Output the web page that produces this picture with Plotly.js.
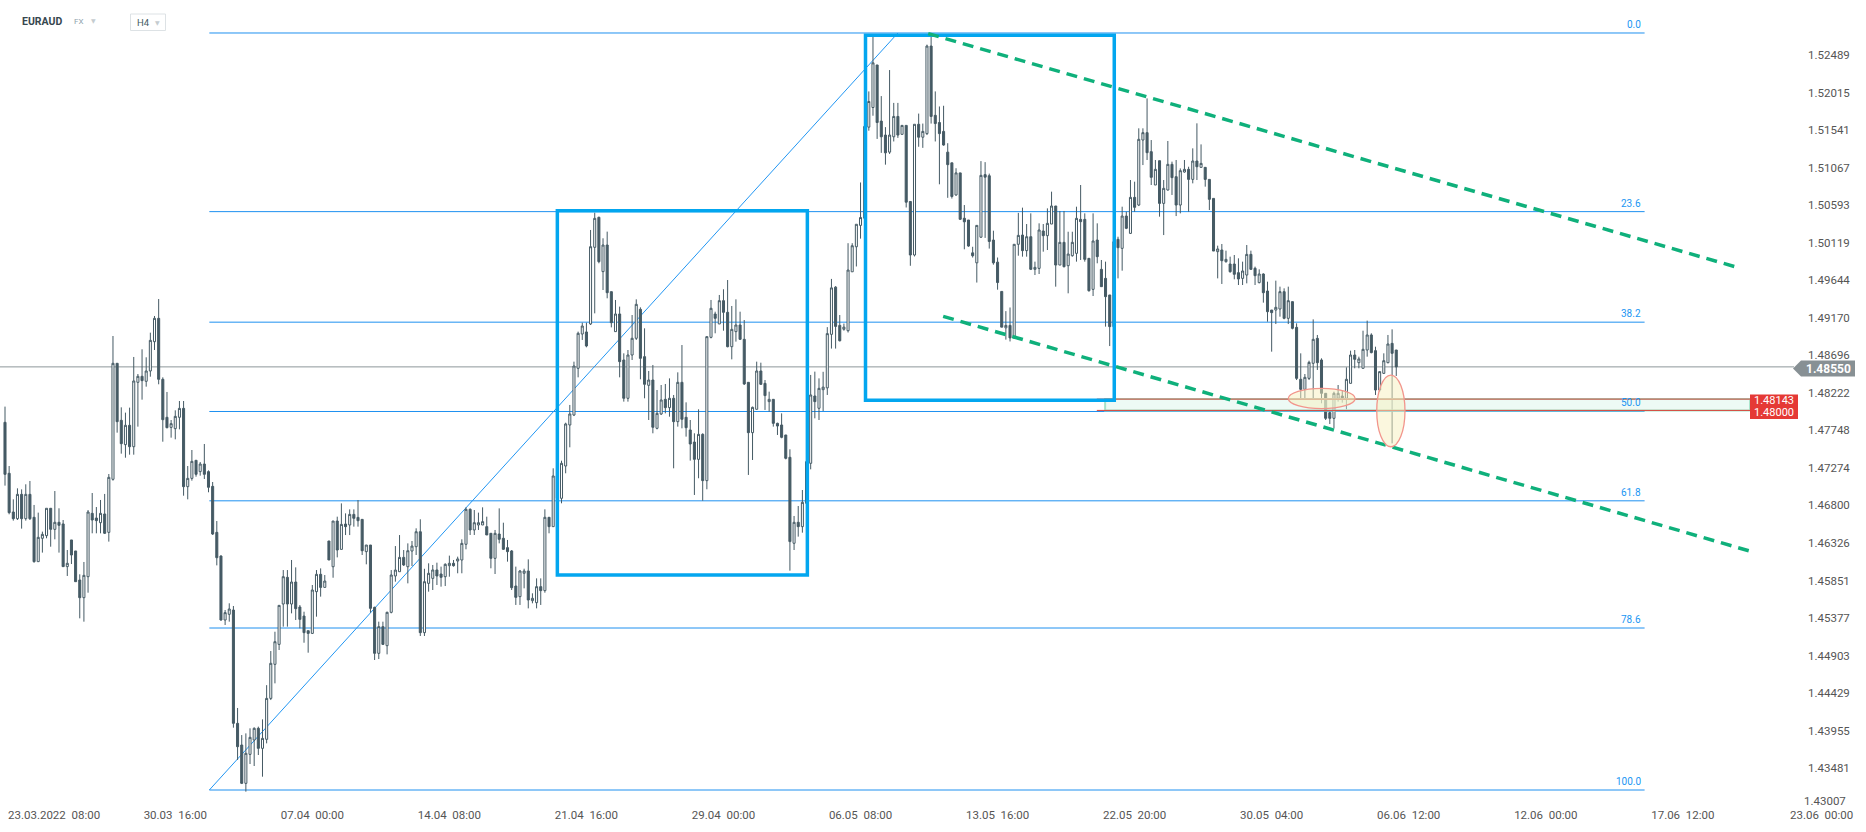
<!DOCTYPE html>
<html>
<head>
<meta charset="utf-8">
<script src="https://cdn.plot.ly/plotly-3.0.1.min.js"></script>
<style>
html,body{margin:0;padding:0;background:#ffffff;}
#chart{width:1866px;height:832px;}
</style>
</head>
<body>
<div id="chart"></div>
<script>
// ---------------- DATA ----------------
const symbol = 'EURAUD';
const market = 'FX';
const interval = 'H4';

const open = [
1.47850,1.47206,1.46717,1.46633,1.46940,1.46633,1.46940,1.46650,1.46090,1.46385,
1.46418,1.46764,1.46498,1.46587,1.46566,1.46027,1.46364,1.46225,1.45858,1.45635,
1.45900,1.46700,1.46641,1.46582,1.46692,1.46460,1.47130,1.48595,1.47875,1.47568,
1.47812,1.47542,1.48355,1.48431,1.48368,1.48498,1.48868,1.49163,1.48393,1.47913,
1.47786,1.47770,1.47913,1.48026,1.47037,1.47142,1.47370,1.47227,1.47323,1.47227,
1.47041,1.46460,1.46161,1.45353,1.45425,1.45479,1.44048,1.43774,1.43290,1.43656,
1.43837,1.43985,1.43732,1.43846,1.44363,1.44793,1.45045,1.45555,1.45892,1.45555,
1.45833,1.45517,1.45403,1.45218,1.45184,1.45711,1.45930,1.45765,1.46351,1.46026,
1.46603,1.46245,1.46565,1.46553,1.46687,1.46649,1.46624,1.46216,1.46300,1.45513,
1.44932,1.45269,1.45029,1.45450,1.45909,1.45963,1.46144,1.46026,1.46224,1.46279,
1.46468,1.45193,1.45816,1.45879,1.45985,1.45934,1.45900,1.46039,1.46069,1.46098,
1.46111,1.46309,1.46751,1.46490,1.46553,1.46553,1.46532,1.46448,1.46132,1.46439,
1.46385,1.46267,1.46225,1.45782,1.45648,1.45943,1.45972,1.45597,1.45572,1.45774,
1.45724,1.46650,1.46532,1.47172,1.46890,1.47298,1.47816,1.47942,1.48532,1.48965,
1.48991,1.49092,1.50060,1.50439,1.49753,1.50089,1.49500,1.48995,1.49218,1.48637,
1.48153,1.48700,1.48911,1.49277,1.48679,1.48317,1.48384,1.47774,1.47955,1.48140,
1.48035,1.48153,1.47858,1.48355,1.47913,1.47753,1.47601,1.47382,1.47698,1.47113,
1.48923,1.49218,1.49092,1.49386,1.49239,1.48805,1.48995,1.49079,1.48898,1.48355,
1.47719,1.48014,1.48498,1.48342,1.48111,1.48140,1.47837,1.47816,1.47690,1.47408,
1.46322,1.46587,1.46532,1.46827,1.47332,1.48182,1.48027,1.48262,1.48285,1.48961,
1.49557,1.49074,1.49025,1.49007,1.49751,1.50067,1.50337,1.50427,1.51578,1.51826,
1.52363,1.51654,1.51478,1.51262,1.51456,1.51713,1.51487,1.51600,1.50639,1.49963,
1.51614,1.51451,1.51496,1.52602,1.51727,1.51636,1.51524,1.51262,1.51127,1.50721,
1.51000,1.50427,1.50405,1.49990,1.49864,1.50188,1.50978,1.50964,1.50152,1.49873,
1.49503,1.49043,1.49074,1.48916,1.50098,1.50215,1.50018,1.50194,1.49782,1.49794,
1.50266,1.50207,1.50354,1.50582,1.49836,1.50123,1.49828,1.49954,1.49984,1.50413,
1.50413,1.49921,1.49529,1.50152,1.49782,1.49668,1.49458,1.49058,1.50161,1.50047,
1.50455,1.50236,1.50691,1.50594,1.51415,1.51508,1.51268,1.50847,1.51154,1.50615,
1.50784,1.51108,1.50952,1.50594,1.51011,1.51045,1.50918,1.51150,1.51070,1.51070,
1.50918,1.50678,1.50005,1.50026,1.49879,1.49849,1.49849,1.49740,1.49668,1.49710,
1.49971,1.49795,1.49614,1.49723,1.49508,1.49268,1.49268,1.49281,1.49500,1.49163,
1.49374,1.49049,1.48393,1.48266,1.48405,1.48595,1.48910,1.48637,1.48216,1.47972,
1.47900,1.48153,1.48182,1.48153,1.48342,1.48700,1.48603,1.48532,1.48763,1.48953,
1.48755,1.48258,1.48468,1.48603,1.48847,1.48763
];

const high = [
1.48048,1.47298,1.46877,1.47016,1.47003,1.47067,1.47109,1.46806,1.46709,1.46469,
1.46764,1.46764,1.46982,1.46764,1.46616,1.46237,1.46364,1.46225,1.45930,1.46086,
1.46742,1.46957,1.46780,1.46869,1.46945,1.47197,1.48940,1.48595,1.48039,1.47972,
1.48035,1.48675,1.48460,1.48772,1.48671,1.48982,1.49193,1.49407,1.48418,1.48233,
1.47879,1.48001,1.48119,1.48119,1.47298,1.47500,1.47370,1.47349,1.47576,1.47243,
1.47096,1.46603,1.46170,1.45479,1.45564,1.45530,1.44242,1.43900,1.43921,1.43985,
1.43997,1.44006,1.44098,1.44530,1.44961,1.45205,1.45538,1.45984,1.45984,1.46111,
1.46018,1.45542,1.45458,1.45218,1.45795,1.45984,1.46005,1.45921,1.46351,1.46603,
1.46658,1.46826,1.46700,1.46750,1.46750,1.46868,1.46624,1.46300,1.46300,1.45521,
1.45332,1.45332,1.45458,1.45984,1.46287,1.46426,1.46237,1.46321,1.46351,1.46511,
1.46625,1.46000,1.46069,1.46048,1.46077,1.46027,1.46069,1.46166,1.46111,1.46153,
1.46372,1.46776,1.46763,1.46742,1.46709,1.46776,1.46658,1.46448,1.46490,1.46763,
1.46582,1.46364,1.46237,1.46027,1.45985,1.46001,1.46119,1.45690,1.45879,1.45879,
1.46751,1.46650,1.47269,1.47190,1.47365,1.47845,1.48069,1.48616,1.48995,1.49108,
1.49108,1.50279,1.50498,1.50447,1.50174,1.50258,1.49500,1.49395,1.49311,1.48721,
1.48763,1.49205,1.49403,1.49302,1.49037,1.48498,1.48574,1.48258,1.48321,1.48334,
1.48405,1.48195,1.48481,1.48826,1.48102,1.47879,1.47711,1.48014,1.47711,1.48932,
1.49395,1.49247,1.49458,1.49530,1.49647,1.49319,1.49403,1.49247,1.49142,1.48355,
1.48048,1.48616,1.48603,1.48384,1.48237,1.48140,1.47845,1.47963,1.47690,1.47509,
1.46667,1.46793,1.46995,1.47353,1.48448,1.48490,1.48405,1.48488,1.49052,1.49661,
1.49570,1.49205,1.49097,1.50112,1.50112,1.50351,1.50879,1.51587,1.52029,1.52728,
1.52363,1.51970,1.51578,1.52299,1.51884,1.51884,1.51600,1.51600,1.50639,1.51614,
1.51749,1.51623,1.52620,1.52767,1.52029,1.51839,1.51848,1.51375,1.51127,1.51059,
1.51000,1.50594,1.50405,1.50067,1.50337,1.51149,1.51136,1.50991,1.50270,1.49931,
1.49503,1.49254,1.49300,1.50098,1.50495,1.50561,1.50354,1.50489,1.49879,1.50363,
1.50354,1.50552,1.50763,1.50582,1.50519,1.50519,1.50257,1.50257,1.50573,1.50847,
1.50489,1.49921,1.50489,1.50363,1.49900,1.49879,1.49458,1.50161,1.50194,1.50573,
1.50510,1.50910,1.50889,1.51563,1.51563,1.51941,1.51415,1.51163,1.51154,1.50910,
1.51403,1.51142,1.51163,1.51057,1.51163,1.51078,1.51310,1.51626,1.51360,1.51070,
1.50918,1.50678,1.50081,1.50102,1.50018,1.49942,1.49963,1.49921,1.49879,1.50089,
1.50018,1.49816,1.49782,1.49731,1.49626,1.49268,1.49639,1.49563,1.49542,1.49563,
1.49374,1.49100,1.48721,1.48460,1.48628,1.49150,1.48953,1.48658,1.48216,1.48005,
1.48237,1.48321,1.48250,1.48544,1.48755,1.48763,1.48679,1.49007,1.49134,1.48974,
1.48805,1.48490,1.48721,1.48953,1.49024,1.48763
];

const low = [
1.47050,1.46688,1.46608,1.46616,1.46507,1.46608,1.46616,1.46077,1.46090,1.46204,
1.46385,1.46279,1.46372,1.46204,1.46027,1.45909,1.46060,1.45837,1.45374,1.45332,
1.45698,1.46448,1.46448,1.46448,1.46439,1.46343,1.47113,1.47719,1.47454,1.47403,
1.47441,1.47441,1.47795,1.48136,1.48300,1.48426,1.48763,1.48330,1.47605,1.47774,
1.47656,1.47635,1.47761,1.46923,1.46877,1.47113,1.47163,1.47176,1.47134,1.46966,
1.46427,1.46043,1.45345,1.45290,1.45332,1.43993,1.43585,1.43281,1.43185,1.43534,
1.43509,1.43648,1.43374,1.43795,1.44342,1.44553,1.44974,1.45269,1.45269,1.45437,
1.45353,1.45248,1.45066,1.44940,1.45176,1.45395,1.45648,1.45765,1.46111,1.45887,
1.46144,1.46245,1.46426,1.46426,1.46532,1.46532,1.46174,1.46056,1.45445,1.44848,
1.44860,1.45037,1.44919,1.45437,1.45837,1.45963,1.46035,1.45816,1.46035,1.46174,
1.45151,1.45151,1.45711,1.45732,1.45795,1.45774,1.45782,1.45900,1.46027,1.45943,
1.45943,1.46246,1.46427,1.46427,1.46490,1.46553,1.46427,1.46006,1.45934,1.46321,
1.46237,1.46090,1.45732,1.45543,1.45543,1.45753,1.45500,1.45564,1.45500,1.45543,
1.45698,1.46448,1.46532,1.46850,1.46827,1.47206,1.47534,1.47929,1.48418,1.48890,
1.48797,1.49079,1.49226,1.49858,1.49521,1.49416,1.49049,1.48995,1.48418,1.48111,
1.48111,1.48637,1.48890,1.48393,1.48153,1.47879,1.47711,1.47761,1.47942,1.47963,
1.47921,1.47269,1.47795,1.47774,1.47669,1.47366,1.46932,1.47143,1.46860,1.47004,
1.48910,1.48974,1.49092,1.49007,1.48797,1.48645,1.48869,1.48890,1.48321,1.47185,
1.47374,1.48014,1.48321,1.48006,1.47985,1.47795,1.47690,1.47648,1.47382,1.45976,
1.46237,1.46406,1.46456,1.46810,1.47256,1.47900,1.47879,1.47992,1.48195,1.48781,
1.48781,1.48871,1.49007,1.48984,1.49751,1.49818,1.50170,1.50405,1.51533,1.51722,
1.51429,1.51253,1.51104,1.51239,1.51397,1.51442,1.51487,1.50563,1.49827,1.49945,
1.51330,1.51316,1.51478,1.51623,1.51397,1.50856,1.51343,1.50685,1.50676,1.50712,
1.50405,1.50035,1.50067,1.49931,1.49615,1.50179,1.50179,1.50044,1.49841,1.49525,
1.49052,1.48894,1.48871,1.48907,1.49954,1.49942,1.49942,1.49773,1.49710,1.49723,
1.50005,1.50026,1.50354,1.49563,1.49836,1.49807,1.49479,1.49942,1.49879,1.49900,
1.49879,1.49500,1.49445,1.49858,1.49563,1.49058,1.48813,1.49030,1.49668,1.49765,
1.50290,1.50228,1.50510,1.50581,1.51099,1.51163,1.50847,1.50847,1.50447,1.50215,
1.50776,1.50721,1.50455,1.50489,1.51003,1.50510,1.50868,1.50910,1.51070,1.50826,
1.50531,1.50013,1.49668,1.49597,1.49866,1.49740,1.49656,1.49584,1.49584,1.49605,
1.49774,1.49584,1.49605,1.49361,1.49121,1.48742,1.49091,1.49184,1.49151,1.49091,
1.49024,1.48384,1.48132,1.48148,1.48384,1.48132,1.48511,1.48090,1.47879,1.47828,
1.47774,1.48111,1.48098,1.48014,1.48342,1.48532,1.48532,1.48532,1.48679,1.48721,
1.48195,1.48237,1.48460,1.48595,1.47584,1.48435
];

const close = [
1.47193,1.46709,1.46633,1.46940,1.46633,1.46940,1.46633,1.46090,1.46397,1.46435,
1.46764,1.46498,1.46587,1.46549,1.46027,1.46069,1.46174,1.45837,1.45635,1.45917,
1.46717,1.46616,1.46608,1.46700,1.46448,1.47155,1.48595,1.47858,1.47580,1.47812,
1.47542,1.48372,1.48431,1.48376,1.48498,1.48885,1.49163,1.48393,1.47883,1.47782,
1.47833,1.47925,1.48026,1.47037,1.47142,1.47357,1.47193,1.47323,1.47193,1.47029,
1.46439,1.46140,1.45353,1.45446,1.45492,1.44048,1.43753,1.43290,1.43669,1.43871,
1.43985,1.43732,1.43858,1.44363,1.44806,1.45079,1.45538,1.45900,1.45555,1.45833,
1.45496,1.45361,1.45193,1.45184,1.45732,1.45930,1.45765,1.45845,1.46111,1.46603,
1.46237,1.46561,1.46532,1.46687,1.46637,1.46607,1.46228,1.46300,1.45500,1.44932,
1.45269,1.45045,1.45450,1.45921,1.45984,1.46144,1.46048,1.46228,1.46287,1.46468,
1.45193,1.45837,1.45943,1.45985,1.45909,1.45892,1.46056,1.46069,1.46039,1.46124,
1.46321,1.46751,1.46490,1.46582,1.46582,1.46595,1.46427,1.46132,1.46448,1.46372,
1.46246,1.46216,1.45761,1.45639,1.45972,1.45972,1.45606,1.45627,1.45774,1.45724,
1.46650,1.46532,1.47172,1.46890,1.47332,1.47829,1.47955,1.48561,1.48974,1.49066,
1.48814,1.50068,1.50426,1.49879,1.50089,1.49487,1.49108,1.49218,1.48616,1.48153,
1.48700,1.48911,1.49340,1.48658,1.48330,1.48384,1.47787,1.47963,1.48132,1.48035,
1.48153,1.47858,1.48355,1.47888,1.47782,1.47576,1.47382,1.47698,1.47113,1.48932,
1.49290,1.49163,1.49386,1.49239,1.48805,1.49024,1.49079,1.48898,1.48334,1.47719,
1.48039,1.48498,1.48330,1.48187,1.48140,1.47837,1.47803,1.47660,1.47395,1.46343,
1.46587,1.46532,1.46839,1.47353,1.48195,1.48111,1.48279,1.48294,1.48970,1.49548,
1.49061,1.48880,1.49052,1.49773,1.50080,1.50351,1.50436,1.51587,1.51902,1.52390,
1.51636,1.51456,1.51253,1.51478,1.51713,1.51478,1.51600,1.50630,1.49963,1.51614,
1.51451,1.51524,1.52602,1.51713,1.51623,1.51496,1.51352,1.51104,1.50702,1.51000,
1.50414,1.50382,1.50076,1.49954,1.50337,1.50969,1.50946,1.50134,1.49864,1.49615,
1.49052,1.49074,1.48916,1.50098,1.50211,1.50018,1.50194,1.49782,1.49807,1.50279,
1.50207,1.50363,1.50582,1.49836,1.50123,1.49815,1.49975,1.50123,1.50426,1.50384,
1.49908,1.49512,1.50140,1.49942,1.49563,1.49437,1.49058,1.50131,1.50055,1.50455,
1.50300,1.50691,1.50565,1.51424,1.51508,1.51255,1.50944,1.51045,1.50615,1.50805,
1.51108,1.50940,1.50594,1.51028,1.51045,1.50918,1.51150,1.51078,1.51120,1.50918,
1.50666,1.50013,1.50039,1.49891,1.49908,1.49752,1.49719,1.49660,1.49761,1.49971,
1.49782,1.49702,1.49723,1.49487,1.49247,1.49235,1.49302,1.49500,1.49163,1.49386,
1.49037,1.48405,1.48266,1.48418,1.48607,1.48898,1.48603,1.48216,1.47900,1.47900,
1.48216,1.48216,1.48153,1.48393,1.48700,1.48645,1.48650,1.48772,1.48953,1.48730,
1.48258,1.48490,1.48628,1.48839,1.48721,1.48550
];

// x-axis tick labels (candle index positions, 33 H4 bars per label step)
const xTickIdx    = [9, 42, 75, 108, 141, 174, 207, 240, 273, 306, 339, 372, 405, 438];
const xTickLabels = ['23.03.2022  08:00','30.03  16:00','07.04  00:00','14.04  08:00','21.04  16:00',
                     '29.04  00:00','06.05  08:00','13.05  16:00','22.05  20:00','30.05  04:00',
                     '06.06  12:00','12.06  00:00','17.06  12:00','23.06  00:00'];

// y-axis price labels
const yTickLabels = ['1.52489','1.52015','1.51541','1.51067','1.50593','1.50119','1.49644','1.49170',
                     '1.48696','1.48222','1.47748','1.47274','1.46800','1.46326','1.45851','1.45377',
                     '1.44903','1.44429','1.43955','1.43481','1.43007'];

// Fibonacci retracement
const fibHigh = 1.52767;
const fibLow = 1.43206;
const fibLevels = [0, 23.6, 38.2, 50.0, 61.8, 78.6, 100.0];
const fibLabels = ['0.0', '23.6', '38.2', '50.0', '61.8', '78.6', '100.0'];

// marked levels
const lastPrice = 1.48550;
const supportLevels = [1.48143, 1.48000];

// ---------------- GEOMETRY / STYLE ----------------
const W = 1866, H = 832, MB = 26, MR = 69;
const plotW = W - MR, plotH = H - MB;
const pxX = px => px / plotW;          // pixel -> paper x
const pxY = py => 1 - py / plotH;      // pixel -> paper y
const FONT = 'Roboto, "Open Sans", "DejaVu Sans", sans-serif';
const nbsp = s => s.replace(/ /g, '\u00a0');

const idx = open.map((_, i) => i + 1);

const candle = {
  type: 'candlestick',
  x: idx, open: open, high: high, low: low, close: close,
  increasing: {line: {color: '#455a64', width: 1}, fillcolor: '#ffffff'},
  decreasing: {line: {color: '#455a64', width: 1}, fillcolor: '#455a64'},
  whiskerwidth: 0,
  hoverinfo: 'none',
  showlegend: false
};

const fibX0 = 50.2, fibX1 = 395.8, fibDiagX1 = 216.0;
const fibPrice = l => fibHigh - (fibHigh - fibLow) * l / 100;

const shapes = [];
const annotations = [];

// current price line
shapes.push({type: 'line', xref: 'paper', yref: 'y', x0: 0, x1: pxX(1794), y0: lastPrice, y1: lastPrice,
  line: {color: '#8d979b', width: 1}, layer: 'below'});

// fib lines
fibLevels.forEach((l, i) => {
  const p = fibPrice(l);
  shapes.push({type: 'line', xref: 'x', yref: 'y', x0: fibX0, x1: fibX1, y0: p, y1: p,
    line: {color: '#1e90f0', width: 1}, layer: 'below'});
  annotations.push({xref: 'x', yref: 'y', x: fibX1 - 0.3, y: p, text: fibLabels[i], showarrow: false,
    xanchor: 'right', yanchor: 'bottom', yshift: 1, font: {family: FONT, size: 10, color: '#2196f3'}});
});
// fib diagonal
shapes.push({type: 'line', xref: 'x', yref: 'y', x0: fibX0, y0: fibLow, x1: fibDiagX1, y1: fibHigh,
  line: {color: '#2196f3', width: 1}, layer: 'below'});

// green zone + red lines
shapes.push({type: 'rect', xref: 'x', yref: 'y', x0: 265.9, x1: 421.2, y0: supportLevels[1], y1: supportLevels[0],
  fillcolor: 'rgba(215,245,232,0.45)', line: {color: '#a5e3c9', width: 2}, layer: 'above'});
supportLevels.forEach(p => {
  shapes.push({type: 'line', xref: 'x', yref: 'y', x0: 263.9, x1: 421.2, y0: p, y1: p,
    line: {color: '#d9423a', width: 1}, layer: 'above'});
});

// blue boxes
shapes.push({type: 'rect', xref: 'x', yref: 'y', x0: 134.0, x1: 194.2, y0: 1.45922, y1: 1.50523,
  line: {color: '#03a6ef', width: 3.5}, fillcolor: 'rgba(0,0,0,0)', layer: 'above'});
shapes.push({type: 'rect', xref: 'x', yref: 'y', x0: 208.2, x1: 268.1, y0: 1.48127, y1: 1.52737,
  line: {color: '#03a6ef', width: 3.5}, fillcolor: 'rgba(0,0,0,0)', layer: 'above'});

// green dashed channel
shapes.push({type: 'line', xref: 'x', yref: 'y', x0: 223.3, y0: 1.52759, x1: 417.6, y1: 1.49815,
  line: {color: '#0fb07b', width: 3.5, dash: '11px,7px'}, layer: 'above'});
shapes.push({type: 'line', xref: 'x', yref: 'y', x0: 226.9, y0: 1.49188, x1: 421.6, y1: 1.46216,
  line: {color: '#0fb07b', width: 3.5, dash: '11px,7px'}, layer: 'above'});

// ellipses
shapes.push({type: 'circle', xref: 'x', yref: 'y', x0: 310.0, x1: 326.1, y0: 1.48022, y1: 1.48279,
  fillcolor: 'rgba(248,240,190,0.5)', line: {color: '#f2958c', width: 1.3}, layer: 'above'});
shapes.push({type: 'circle', xref: 'x', yref: 'y', x0: 331.3, x1: 338.1, y0: 1.47541, y1: 1.48447,
  fillcolor: 'rgba(248,240,190,0.5)', line: {color: '#f2958c', width: 1.3}, layer: 'above'});

// current price tag (arrow box)
shapes.push({type: 'path', xref: 'paper', yref: 'paper', layer: 'above',
  path: `M ${pxX(1793)},${pxY(368.5)} L ${pxX(1801)},${pxY(360.5)} L ${pxX(1855)},${pxY(360.5)} L ${pxX(1855)},${pxY(376.5)} L ${pxX(1801)},${pxY(376.5)} Z`,
  fillcolor: '#879094', line: {width: 0}});
annotations.push({xref: 'paper', yref: 'paper', x: pxX(1828), y: pxY(368.5), text: '<b>' + lastPrice.toFixed(5) + '</b>',
  showarrow: false, xanchor: 'center', yanchor: 'middle', font: {family: FONT, size: 12, color: '#ffffff'}});

// red level tags
shapes.push({type: 'rect', xref: 'paper', yref: 'paper', x0: pxX(1750), x1: pxX(1798), y0: pxY(419), y1: pxY(394.5),
  fillcolor: '#e53935', line: {width: 0}, layer: 'above'});
annotations.push({xref: 'paper', yref: 'paper', x: pxX(1774), y: pxY(400.5), text: supportLevels[0].toFixed(5),
  showarrow: false, xanchor: 'center', yanchor: 'middle', font: {family: FONT, size: 11, color: '#ffffff'}});
annotations.push({xref: 'paper', yref: 'paper', x: pxX(1774), y: pxY(412.5), text: supportLevels[1].toFixed(5),
  showarrow: false, xanchor: 'center', yanchor: 'middle', font: {family: FONT, size: 11, color: '#ffffff'}});

// bottom-most y label and edge x labels
annotations.push({xref: 'paper', yref: 'paper', x: pxX(1848), y: pxY(801), text: yTickLabels[yTickLabels.length - 1],
  showarrow: false, xanchor: 'right', yanchor: 'middle', font: {family: FONT, size: 11.5, color: '#555555'}});
annotations.push({xref: 'paper', yref: 'paper', x: pxX(6), y: pxY(815), text: nbsp(xTickLabels[0]),
  showarrow: false, xanchor: 'left', yanchor: 'middle', font: {family: FONT, size: 11.5, color: '#555555'}});
annotations.push({xref: 'paper', yref: 'paper', x: pxX(1821), y: pxY(815), text: nbsp(xTickLabels[xTickLabels.length - 1]),
  showarrow: false, xanchor: 'center', yanchor: 'middle', font: {family: FONT, size: 11.5, color: '#555555'}});

// header
annotations.push({xref: 'paper', yref: 'paper', x: pxX(20), y: pxY(21.5), text: '<b>' + symbol + '</b>',
  showarrow: false, xanchor: 'left', yanchor: 'middle', font: {family: FONT, size: 10.5, color: '#37474f'}});
annotations.push({xref: 'paper', yref: 'paper', x: pxX(72), y: pxY(21.5), text: market,
  showarrow: false, xanchor: 'left', yanchor: 'middle', font: {family: FONT, size: 8, color: '#8fa3ad'}});
annotations.push({xref: 'paper', yref: 'paper', x: pxX(93), y: pxY(20.5), text: '\u25BC',
  showarrow: false, xanchor: 'center', yanchor: 'middle', font: {family: FONT, size: 6, color: '#c5ccd0'}});
shapes.push({type: 'rect', xref: 'paper', yref: 'paper', x0: pxX(130.5), x1: pxX(165.5), y0: pxY(30.5), y1: pxY(14),
  fillcolor: '#ffffff', line: {color: '#dde2e5', width: 1}, layer: 'above'});
annotations.push({xref: 'paper', yref: 'paper', x: pxX(135), y: pxY(22), text: interval,
  showarrow: false, xanchor: 'left', yanchor: 'middle', font: {family: FONT, size: 9.5, color: '#455a64'}});
annotations.push({xref: 'paper', yref: 'paper', x: pxX(157), y: pxY(22.5), text: '\u25BC',
  showarrow: false, xanchor: 'center', yanchor: 'middle', font: {family: FONT, size: 6, color: '#c5ccd0'}});

// x range: candle 1 at px 5, 4.153 px per candle
const xPerPx = 1 / 4.153;
const xRange = [1 - 5 * xPerPx, 1 + (plotW - 5) * xPerPx];
// y range: 1.52489 at py 55, 0.0001263 per px
const yRange = [1.52489 - (plotH - 55) * 0.0001263, 1.52489 + 55 * 0.0001263];

const layout = {
  width: W, height: H,
  margin: {l: 0, r: MR, t: 0, b: MB, pad: 0},
  paper_bgcolor: '#ffffff', plot_bgcolor: '#ffffff',
  showlegend: false,
  font: {family: FONT, color: '#555555', size: 11.5},
  xaxis: {
    type: 'linear', range: xRange, fixedrange: true,
    showgrid: false, zeroline: false, showline: false, ticks: '',
    tickvals: xTickIdx.slice(1, -1), ticktext: xTickLabels.slice(1, -1).map(nbsp),
    tickfont: {family: FONT, size: 11.5, color: '#555555'},
    rangeslider: {visible: false}
  },
  yaxis: {
    side: 'right', range: yRange, fixedrange: true,
    showgrid: false, zeroline: false, showline: false, ticks: '',
    tickvals: yTickLabels.slice(0, -1).map(Number), ticktext: yTickLabels.slice(0, -1),
    ticklabelstandoff: 10,
    tickfont: {family: FONT, size: 11.5, color: '#555555'}
  },
  shapes: shapes,
  annotations: annotations
};

Plotly.newPlot('chart', [candle], layout, {displayModeBar: false, staticPlot: true});
</script>
</body>
</html>
